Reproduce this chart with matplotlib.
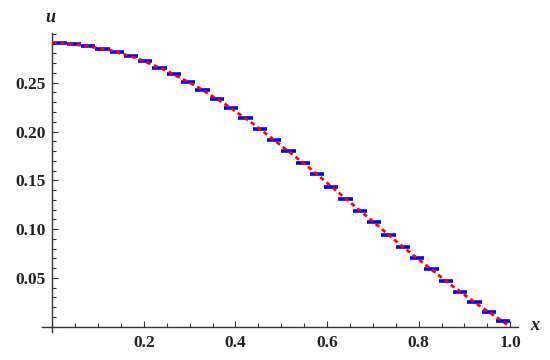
import numpy as np
import matplotlib.pyplot as plt
from matplotlib.ticker import MultipleLocator, FixedLocator

# piecewise constant values on 32 equal cells of [0, 1]
step_vals = [0.2911, 0.2895, 0.2875, 0.2851, 0.2820, 0.2772, 0.2721, 0.2656,
             0.2587, 0.2512, 0.2427, 0.2338, 0.2238, 0.2136, 0.2030, 0.1910,
             0.1800, 0.1681, 0.1564, 0.1434, 0.1311, 0.1188, 0.1068, 0.0937,
             0.0818, 0.0698, 0.0585, 0.0465, 0.0356, 0.0249, 0.0147, 0.0054]

# reference curve (red dashed)
curve_x = [0, 0.0625, 0.125, 0.1875, 0.25, 0.3125, 0.375, 0.4375, 0.5,
           0.5625, 0.625, 0.6875, 0.75, 0.8125, 0.875, 0.9375, 1.0]
curve_u = [0.2915, 0.2885, 0.2836, 0.2747, 0.2622, 0.2470, 0.2288, 0.2083,
           0.1855, 0.1623, 0.1373, 0.1128, 0.0878, 0.0642, 0.0411, 0.0198, 0.0]

x_ticks = [0.2, 0.4, 0.6, 0.8, 1.0]
x_labels = ['0.2', '0.4', '0.6', '0.8', '1.0']
y_ticks = [0.05, 0.10, 0.15, 0.20, 0.25]
y_labels = ['0.05', '0.10', '0.15', '0.20', '0.25']

plt.rcParams['font.family'] = ['Liberation Serif', 'DejaVu Serif']

fig = plt.figure(figsize=(5.5, 3.6), dpi=100)
ax = fig.add_axes([0.0764, 0.0786, 0.8654, 0.8297])

n = len(step_vals)
edges = np.linspace(0, 1, n + 1)
ax.hlines(step_vals, edges[:-1], edges[1:], colors='#0000ff', lw=2.6,
          capstyle='butt', zorder=2)
ax.plot(curve_x, curve_u, color='#ff0000', lw=2.0, ls=(0, (1.6, 1.3)),
        zorder=3)

ax.set_xlim(-0.0225, 1.017)
ax.set_ylim(-0.0053, 0.301)

for s in ['top', 'right']:
    ax.spines[s].set_visible(False)
for s in ['left', 'bottom']:
    ax.spines[s].set_position(('data', 0))
    ax.spines[s].set_linewidth(1.0)
    ax.spines[s].set_color('#333333')

ax.xaxis.set_major_locator(FixedLocator(x_ticks))
ax.set_xticklabels(x_labels)
ax.xaxis.set_minor_locator(MultipleLocator(0.05))
ax.yaxis.set_major_locator(FixedLocator(y_ticks))
ax.set_yticklabels(y_labels)
ax.yaxis.set_minor_locator(MultipleLocator(0.01))

ax.tick_params(which='both', direction='in', color='#333333', width=0.8)
ax.tick_params(which='major', length=4.5)
ax.tick_params(which='minor', length=3)
ax.tick_params(axis='x', which='major', pad=6)
ax.tick_params(axis='y', which='major', pad=5)
for lab in ax.get_xticklabels() + ax.get_yticklabels():
    lab.set_fontsize(12.5)
    lab.set_fontweight('bold')
    lab.set_color('#222222')

fig.text(50 / 550, 1 - 17 / 360, 'u', fontsize=13, style='italic',
         fontweight='bold', ha='center', va='center', color='#222222')
fig.text(535 / 550, 1 - 326 / 360, 'x', fontsize=13, style='italic',
         fontweight='bold', ha='center', va='center', color='#222222')

fig.savefig('out.png', dpi=100)
